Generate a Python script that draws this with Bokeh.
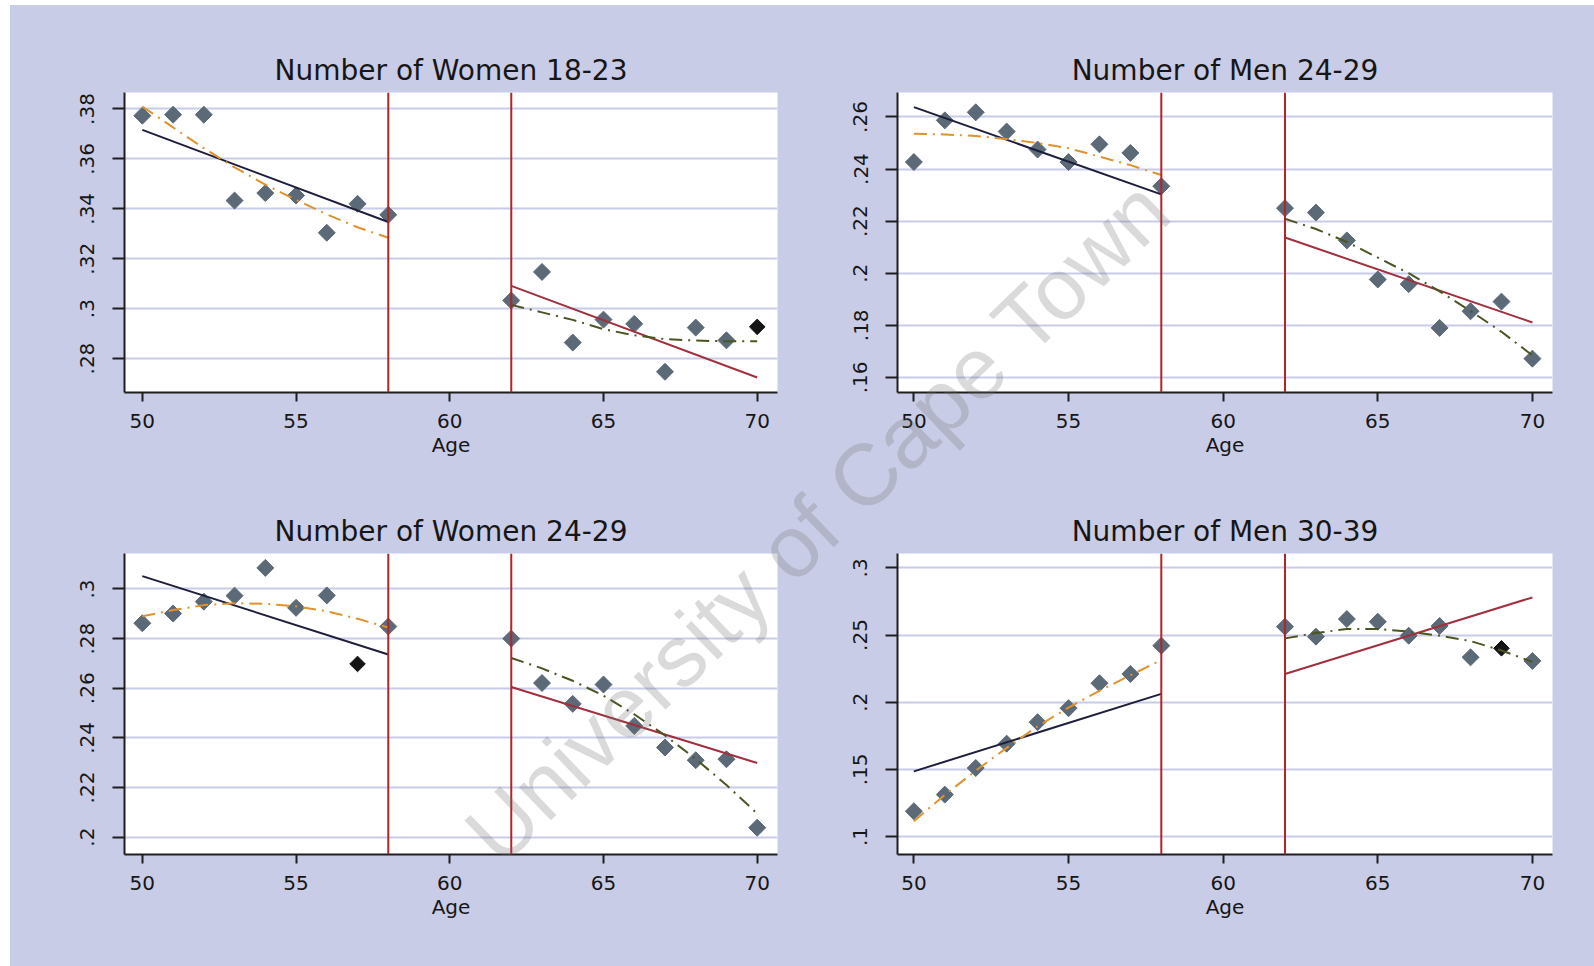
import numpy as np
from bokeh.plotting import figure
from bokeh.layouts import row, column, Spacer
from bokeh.models import Range1d, FixedTicker, Span, Label
from bokeh.embed import file_html
from bokeh.resources import INLINE

# ---------------------------------------------------------------- data
ages_left = [50, 51, 52, 53, 54, 55, 56, 57, 58]
ages_right = [62, 63, 64, 65, 66, 67, 68, 69, 70]
ends_left = [50, 58]
ends_right = [62, 70]
cutoffs = [58, 62]
x_ticks = [50, 55, 60, 65, 70]

titles = ["Number of Women 18-23", "Number of Men 24-29",
          "Number of Women 24-29", "Number of Men 30-39"]

# Number of Women 18-23
w1823_pts_left = [0.3773, 0.3777, 0.3777, 0.3433, 0.3463, 0.3453, 0.3304, 0.3420, 0.3376]
w1823_pts_right = [0.3033, 0.3147, 0.2864, 0.2956, 0.2939, 0.2747, 0.2924, 0.2873, 0.2927]
w1823_lin_left = [0.3716, 0.3347]
w1823_lin_right = [0.3091, 0.2724]
w1823_quad_left = [0.3810, 0.3726, 0.3643, 0.3566, 0.3497, 0.3436, 0.3378, 0.3326, 0.3284]
w1823_quad_right = [0.3015, 0.2985, 0.2955, 0.2918, 0.2893, 0.2878, 0.2872, 0.2869, 0.2869]
w1823_dark_ages = [70]
w1823_yticks = [0.28, 0.30, 0.32, 0.34, 0.36, 0.38]
w1823_ylabels = [".28", ".3", ".32", ".34", ".36", ".38"]

# Number of Men 24-29
m2429_pts_left = [0.2427, 0.2587, 0.2618, 0.2544, 0.2475, 0.2427, 0.2495, 0.2462, 0.2334]
m2429_pts_right = [0.2250, 0.2233, 0.2126, 0.1976, 0.1958, 0.1790, 0.1854, 0.1891, 0.1672]
m2429_lin_left = [0.2638, 0.2303]
m2429_lin_right = [0.2137, 0.1811]
m2429_quad_left = [0.2536, 0.2533, 0.2527, 0.2515, 0.2500, 0.2480, 0.2448, 0.2415, 0.2377]
m2429_quad_right = [0.2209, 0.2170, 0.2120, 0.2060, 0.2000, 0.1930, 0.1855, 0.1775, 0.1685]
m2429_dark_ages = []
m2429_yticks = [0.16, 0.18, 0.20, 0.22, 0.24, 0.26]
m2429_ylabels = [".16", ".18", ".2", ".22", ".24", ".26"]

# Number of Women 24-29
w2429_pts_left = [0.2862, 0.2901, 0.2949, 0.2973, 0.3085, 0.2924, 0.2974, 0.2698, 0.2849]
w2429_pts_right = [0.2800, 0.2621, 0.2537, 0.2615, 0.2448, 0.2361, 0.2310, 0.2314, 0.2038]
w2429_lin_left = [0.3052, 0.2736]
w2429_lin_right = [0.2605, 0.2299]
w2429_quad_left = [0.2890, 0.2915, 0.2935, 0.2943, 0.2940, 0.2930, 0.2910, 0.2880, 0.2845]
w2429_quad_right = [0.2722, 0.2680, 0.2630, 0.2570, 0.2495, 0.2410, 0.2315, 0.2210, 0.2095]
w2429_dark_ages = [57]
w2429_yticks = [0.20, 0.22, 0.24, 0.26, 0.28, 0.30]
w2429_ylabels = [".2", ".22", ".24", ".26", ".28", ".3"]

# Number of Men 30-39
m3039_pts_left = [0.1188, 0.1312, 0.1510, 0.1691, 0.1851, 0.1955, 0.2141, 0.2210, 0.2421]
m3039_pts_right = [0.2562, 0.2488, 0.2619, 0.2599, 0.2495, 0.2567, 0.2334, 0.2401, 0.2307]
m3039_lin_left = [0.1485, 0.2062]
m3039_lin_right = [0.2210, 0.2780]
m3039_quad_left = [0.1114, 0.1310, 0.1490, 0.1660, 0.1820, 0.1960, 0.2085, 0.2200, 0.2314]
m3039_quad_right = [0.2475, 0.2515, 0.2545, 0.2545, 0.2525, 0.2495, 0.2455, 0.2385, 0.2300]
m3039_dark_ages = [69]
m3039_yticks = [0.10, 0.15, 0.20, 0.25, 0.30]
m3039_ylabels = [".1", ".15", ".2", ".25", ".3"]

watermark_text = "University of Cape Town"

# ---------------------------------------------------------------- styling
BG = "#c9cce6"
GRID = "#c8cce9"
AXIS = "#1e1e1e"
MARKER = "#5b6a76"
DARK_MARKER = "#141414"
LIN_LEFT = "#1d1d3d"
LIN_RIGHT = "#a0303e"
QUAD_LEFT = "#e0922c"
QUAD_RIGHT = "#4a5522"
CUTOFF = "#b3242a"
FONT = "DejaVu Sans"

PAGE_W, PAGE_H = 1594, 966
PAGE_LEFT, PAGE_TOP = 10, 5
COL_W = [792, 792]
ROW_H = [480, 481]
# frame boxes on the page: (left, right, top, bottom)
FRAMES = [
    (124, 777, 92, 392), (897, 1552, 92, 392),
    (124, 777, 553, 854), (897, 1552, 553, 854),
]
X_RANGES = [(49.42, 70.66), (49.47, 70.65), (49.42, 70.66), (49.47, 70.65)]
Y_RANGES = [(0.2664, 0.3866), (0.1542, 0.2694), (0.1930, 0.3143), (0.0866, 0.3107)]

WM_CENTER = (817, 520)
WM_ANGLE = np.deg2rad(44)


def make_panel(i, pts_l, pts_r, lin_l, lin_r, quad_l, quad_r, dark_ages, yticks, ylabels):
    r, c = divmod(i, 2)
    fig_x = PAGE_LEFT + sum(COL_W[:c])
    fig_y = PAGE_TOP + sum(ROW_H[:r])
    W, H = COL_W[c], ROW_H[r]
    fl, fr, ft, fb = FRAMES[i]
    x0, x1 = X_RANGES[i]
    y0, y1 = Y_RANGES[i]

    p = figure(width=W, height=H, title=titles[i],
               x_range=Range1d(x0, x1), y_range=Range1d(y0, y1),
               output_backend="svg", toolbar_location=None,
               min_border_left=fl - fig_x, min_border_right=fig_x + W - fr,
               min_border_top=ft - fig_y, min_border_bottom=fig_y + H - fb,
               styles={"background-color": BG})
    p.background_fill_color = "white"
    p.border_fill_color = BG
    p.outline_line_color = None

    p.title.align = "center"
    p.title.text_font = FONT
    p.title.text_font_size = "28px"
    p.title.text_font_style = "normal"
    p.title.text_color = "#161616"
    p.title.standoff = 11

    p.xgrid.visible = False
    p.ygrid.ticker = FixedTicker(ticks=yticks)
    p.ygrid.grid_line_color = GRID
    p.ygrid.grid_line_width = 2

    for ax in (p.xaxis[0], p.yaxis[0]):
        ax.axis_line_color = AXIS
        ax.axis_line_width = 2
        ax.major_tick_line_color = AXIS
        ax.major_tick_line_width = 2
        ax.major_tick_in = 0
        ax.minor_tick_line_color = None
        ax.major_label_text_font = FONT
        ax.major_label_text_font_size = "20px"
        ax.major_label_text_color = "#161616"

    p.xaxis.ticker = FixedTicker(ticks=x_ticks)
    p.xaxis.major_tick_out = 9
    p.xaxis.major_label_standoff = 12
    p.xaxis.axis_label = "Age"
    p.xaxis.axis_label_text_font = FONT
    p.xaxis.axis_label_text_font_size = "20px"
    p.xaxis.axis_label_text_font_style = "normal"
    p.xaxis.axis_label_text_color = "#161616"
    p.xaxis.axis_label_standoff = 2

    p.yaxis.ticker = FixedTicker(ticks=yticks)
    p.yaxis.major_label_overrides = dict(zip(yticks, ylabels))
    p.yaxis.major_label_orientation = "vertical"
    p.yaxis.major_tick_out = 12
    p.yaxis.major_label_standoff = 18

    for cut in cutoffs:
        p.add_layout(Span(location=cut, dimension="height",
                          line_color=CUTOFF, line_width=2))

    # observed means
    ages = ages_left + ages_right
    vals = pts_l + pts_r
    light = [(a, v) for a, v in zip(ages, vals) if a not in dark_ages]
    dark = [(a, v) for a, v in zip(ages, vals) if a in dark_ages]
    p.scatter([a for a, _ in light], [v for _, v in light], marker="square",
              angle=np.pi / 4, size=12, fill_color=MARKER, line_color=MARKER)
    if dark:
        p.scatter([a for a, _ in dark], [v for _, v in dark], marker="square",
                  angle=np.pi / 4, size=11, fill_color=DARK_MARKER, line_color=DARK_MARKER)

    # linear and quadratic fits on each side of the window
    p.line(ends_left, lin_l, line_color=LIN_LEFT, line_width=2)
    p.line(ends_right, lin_r, line_color=LIN_RIGHT, line_width=2)
    p.line(ages_left, quad_l, line_color=QUAD_LEFT, line_width=2, line_dash="13 6 2 6")
    p.line(ages_right, quad_r, line_color=QUAD_RIGHT, line_width=2, line_dash="13 6 2 6")
    return p


panels = [
    make_panel(0, w1823_pts_left, w1823_pts_right, w1823_lin_left, w1823_lin_right,
               w1823_quad_left, w1823_quad_right, w1823_dark_ages, w1823_yticks, w1823_ylabels),
    make_panel(1, m2429_pts_left, m2429_pts_right, m2429_lin_left, m2429_lin_right,
               m2429_quad_left, m2429_quad_right, m2429_dark_ages, m2429_yticks, m2429_ylabels),
    make_panel(2, w2429_pts_left, w2429_pts_right, w2429_lin_left, w2429_lin_right,
               w2429_quad_left, w2429_quad_right, w2429_dark_ages, w2429_yticks, w2429_ylabels),
    make_panel(3, m3039_pts_left, m3039_pts_right, m3039_lin_left, m3039_lin_right,
               m3039_quad_left, m3039_quad_right, m3039_dark_ages, m3039_yticks, m3039_ylabels),
]

# transparent page-sized layer on top of the panels, carrying the watermark
overlay = figure(width=PAGE_W, height=PAGE_H,
                 x_range=Range1d(0, PAGE_W), y_range=Range1d(0, PAGE_H),
                 x_axis_type=None, y_axis_type=None,
                 output_backend="svg", toolbar_location=None,
                 min_border=0,
                 styles={"position": "absolute", "left": "0px", "top": "0px",
                         "z-index": "10", "pointer-events": "none"})
overlay.background_fill_alpha = 0
overlay.border_fill_alpha = 0
overlay.outline_line_color = None
overlay.grid.visible = False
overlay.add_layout(Label(x=WM_CENTER[0], y=PAGE_H - WM_CENTER[1], text=watermark_text,
                         angle=WM_ANGLE, text_align="center", text_baseline="middle",
                         text_font="Liberation Sans", text_font_size="87px",
                         text_color="#6f6f6f", text_alpha=0.26))

grid = column(row(panels[0], panels[1], spacing=0),
              row(panels[2], panels[3], spacing=0), spacing=0)
page = column(overlay, Spacer(height=PAGE_TOP),
              row(Spacer(width=PAGE_LEFT), grid, spacing=0), spacing=0)

open("out.html", "w").write(file_html(page, INLINE))
